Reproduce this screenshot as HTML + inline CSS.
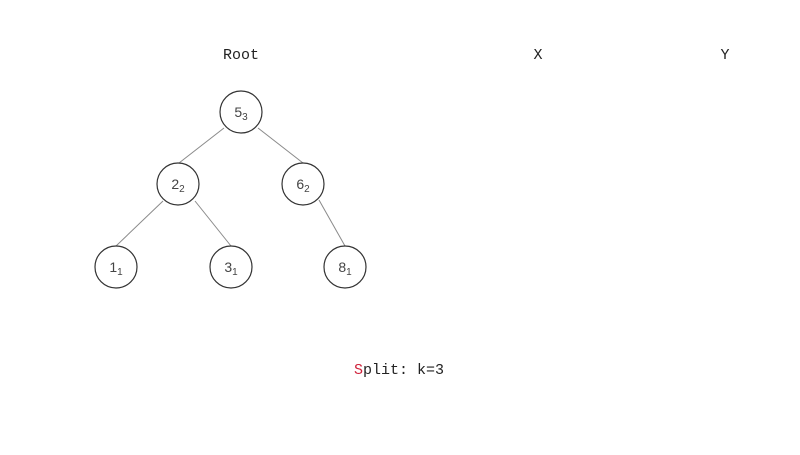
<!DOCTYPE html>
<html><head><style>
body{margin:0;width:800px;height:450px;background:#fff;overflow:hidden}
</style></head><body>
<svg width="800" height="450" xmlns="http://www.w3.org/2000/svg">
<g stroke="#8a8a8a" stroke-width="1">
<line x1="224" y1="128" x2="179" y2="163"/>
<line x1="258" y1="128" x2="303" y2="163"/>
<line x1="163" y1="201" x2="116" y2="246"/>
<line x1="195" y1="201" x2="231" y2="246"/>
<line x1="319" y1="200" x2="345" y2="246"/>
</g>
<g fill="#fff" stroke="#333" stroke-width="1.2">
<circle cx="241" cy="112" r="21"/>
<circle cx="178" cy="184" r="21"/>
<circle cx="303" cy="184" r="21"/>
<circle cx="116" cy="267" r="21"/>
<circle cx="231" cy="267" r="21"/>
<circle cx="345" cy="267" r="21"/>
</g>
<g font-family="Liberation Sans, sans-serif" font-size="14" fill="#444" text-anchor="middle">
<text x="241" y="117">5<tspan font-size="10" dy="3">3</tspan></text>
<text x="178" y="189">2<tspan font-size="10" dy="3">2</tspan></text>
<text x="303" y="189">6<tspan font-size="10" dy="3">2</tspan></text>
<text x="116" y="272">1<tspan font-size="10" dy="3">1</tspan></text>
<text x="231" y="272">3<tspan font-size="10" dy="3">1</tspan></text>
<text x="345" y="272">8<tspan font-size="10" dy="3">1</tspan></text>
</g>
<g font-family="Liberation Mono, monospace" font-size="15" fill="#222" text-anchor="middle">
<text x="241" y="59">Root</text>
<text x="538" y="59">X</text>
<text x="725" y="59">Y</text>
<text x="399" y="374"><tspan fill="#d0213a">S</tspan>plit: k=3</text>
</g>
</svg>
</body></html>
